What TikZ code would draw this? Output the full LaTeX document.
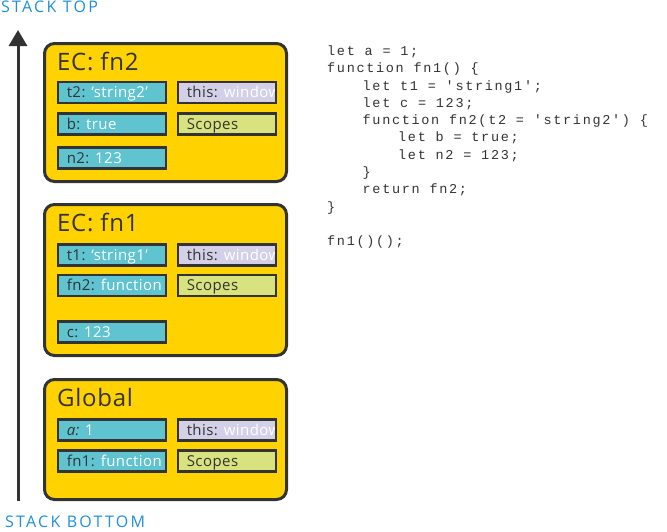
\documentclass[tikz,border=0pt]{standalone}
\usepackage{fontspec}
\setmainfont{Open Sans}
\setmonofont[LetterSpace=12.5]{Liberation Mono}
\newfontfamily\stackfont[LetterSpace=14]{Open Sans}
\newfontfamily\boxfont[LetterSpace=3]{Open Sans}
\newfontfamily\titlefont[LetterSpace=3]{Open Sans}
\usetikzlibrary{arrows.meta}
\definecolor{ecy}{HTML}{FFD200}
\definecolor{bd}{HTML}{333333}
\definecolor{cy}{HTML}{5FC3D0}
\definecolor{lav}{HTML}{D3D0E8}
\definecolor{lim}{HTML}{D8E27F}
\definecolor{blu}{HTML}{1E90D8}
\definecolor{codec}{HTML}{333333}
\newcommand\ibox[6]{%
  \node[fill=#2, minimum width=#3, minimum height=21pt, inner sep=0] (#1) at (#4,#5) {};
  \begin{scope}
    \clip (#1.south west) rectangle (#1.north east);
    \node[itext, anchor=base west] (#1t) at ([xshift=8.5pt,yshift=-5.3pt]#1.west) {#6};
  \end{scope}
  \draw[line width=2.5pt, draw=bd] (#1.south west) rectangle (#1.north east);
}
\newcommand\dk[1]{{\color{bd}#1}}
\newcommand\wh[1]{{\color{white}#1}}
\begin{document}
\begin{tikzpicture}[x=1pt,y=-1pt,
  ec/.style={draw=bd, line width=3pt, fill=ecy, rounded corners=10pt, minimum width=242pt, inner sep=0},
  itext/.style={inner sep=0, font=\boxfont\fontsize{15}{18}\selectfont},
  title/.style={inner sep=0, anchor=base west, text=bd, font=\titlefont\fontsize{24}{28}\selectfont},
  stack/.style={inner sep=0, anchor=base west, text=blu, font=\stackfont\fontsize{16}{19}\selectfont}]
\useasboundingbox (0,0) rectangle (667,531);

% stack arrow
\coordinate (bot) at (18,501);
\coordinate (top) at (18,30);
\draw[line width=3pt, draw=bd, -{Triangle[width=18pt,length=16pt]}] (bot) -- (top);
\node[stack] (stop) at (1,12) {STACK TOP};
\node[stack] (sbot) at (5,527.5) {STACK BOTTOM};

% EC fn2
\node[ec, minimum height=138pt] (ec2) at (165.5,112.5) {};
\node[title] (ec2t) at (57,70) {EC: fn2};
\ibox{t2}{cy}{107.5pt}{112}{92.5}{\dk{t2:} \wh{‘string2’}}
\ibox{this2}{lav}{97.5pt}{227}{92.5}{\dk{this:} \wh{window}}
\ibox{b}{cy}{107.5pt}{112}{124}{\dk{b:} \wh{true}}
\ibox{sc2}{lim}{97.5pt}{227}{124}{\dk{Scopes}}
\ibox{n2}{cy}{107.5pt}{112}{158}{\dk{n2:} \wh{123}}

% EC fn1
\node[ec, minimum height=151pt] (ec1) at (165.5,280) {};
\node[title] (ec1t) at (57,231) {EC: fn1};
\ibox{t1}{cy}{107.5pt}{112}{255}{\dk{t1:} \wh{‘string1’}}
\ibox{this1}{lav}{97.5pt}{227}{255}{\dk{this:} \wh{window}}
\ibox{fn2}{cy}{107.5pt}{112}{285.5}{\dk{fn2:} \wh{function}}
\ibox{sc1}{lim}{97.5pt}{227}{285.5}{\dk{Scopes}}
\ibox{c}{cy}{107.5pt}{112}{332}{\dk{c:} \wh{123}}

% Global
\node[ec, minimum height=120pt] (glob) at (165.5,439.5) {};
\node[title] (globt) at (57,406) {Global};
\ibox{a}{cy}{107.5pt}{112}{430}{\dk{\itshape a:} \wh{1}}
\ibox{thisg}{lav}{97.5pt}{227}{430}{\dk{this:} \wh{window}}
\ibox{fn1}{cy}{107.5pt}{112}{461}{\dk{fn1:} \wh{function}}
\ibox{scg}{lim}{97.5pt}{227}{461}{\dk{Scopes}}

% code
\node[inner sep=0, anchor=north west, align=left, text=codec,
  font=\ttfamily\fontsize{13.5}{17.3}\selectfont] (code) at (327,45.5) {%
let a = 1;\\
function fn1() \{\\
\hspace*{35.5pt}let t1 = 'string1';\\
\hspace*{35.5pt}let c = 123;\\
\hspace*{35.5pt}function fn2(t2 = 'string2') \{\\
\hspace*{71pt}let b = true;\\
\hspace*{71pt}let n2 = 123;\\
\hspace*{35.5pt}\}\\
\hspace*{35.5pt}return fn2;\\
\}\\
\mbox{}\\
fn1()();};
\end{tikzpicture}
\end{document}
